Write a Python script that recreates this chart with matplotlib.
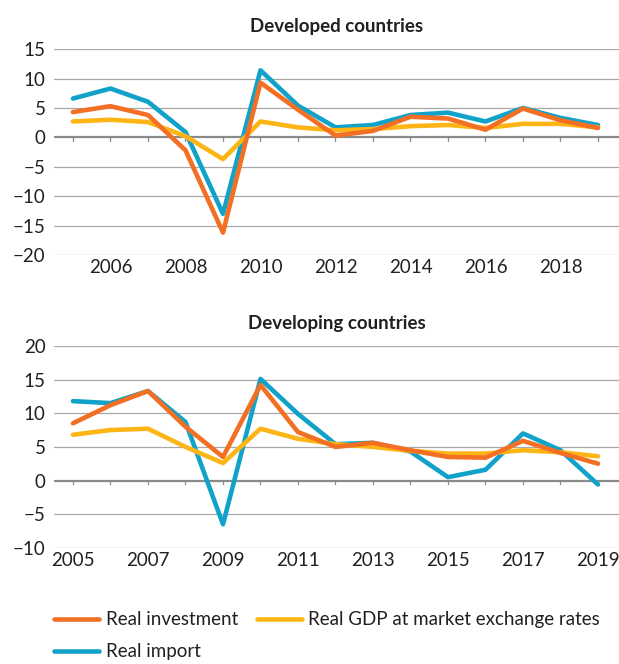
import matplotlib
matplotlib.use("Agg")
import matplotlib.pyplot as plt
from matplotlib.lines import Line2D

plt.rcParams['font.family'] = ['Lato', 'DejaVu Sans']

# ── Dados ─────────────────────────────────────────────────
anos = list(range(2005, 2020))

dev_investimento = [4.3, 5.3, 3.8, -2.2, -16.2, 9.3, 4.7, 0.3, 1.1, 3.5, 3.2, 1.3, 4.9, 2.9, 1.6]
dev_pib          = [2.7, 3.0, 2.6, 0.2, -3.7, 2.7, 1.7, 1.2, 1.4, 1.9, 2.1, 1.6, 2.3, 2.3, 1.7]
dev_importacao   = [6.6, 8.3, 6.05, 0.9, -13.0, 11.4, 5.4, 1.7, 2.1, 3.8, 4.2, 2.7, 5.0, 3.3, 2.1]

emg_investimento = [8.5, 11.2, 13.3, 8.0, 3.5, 14.2, 7.2, 5.0, 5.6, 4.5, 3.5, 3.4, 5.9, 4.1, 2.5]
emg_pib          = [6.8, 7.5, 7.7, 5.0, 2.6, 7.7, 6.2, 5.4, 5.0, 4.4, 4.0, 4.0, 4.5, 4.2, 3.6]
emg_importacao   = [11.8, 11.5, 13.3, 8.7, -6.5, 15.1, 9.9, 5.4, 5.6, 4.3, 0.5, 1.6, 7.0, 4.5, -0.6]

titulos = ['Developed countries', 'Developing countries']
rotulos = ['Real investment', 'Real GDP at market exchange rates', 'Real import']

COR_INV = '#F26F23'
COR_PIB = '#FDB515'
COR_IMP = '#11A2C9'

fig = plt.figure(figsize=(6.19, 6.64), dpi=100)
ax1 = fig.add_axes([0.087, 0.616, 0.913, 0.31])
ax2 = fig.add_axes([0.087, 0.175, 0.913, 0.304])


def desenhar(ax, inv, pib, imp, titulo, yticks, xticks):
    lw = 3.3
    ax.plot(anos, imp, color=COR_IMP, lw=lw, solid_capstyle='round', zorder=3)
    ax.plot(anos, pib, color=COR_PIB, lw=lw, solid_capstyle='round', zorder=4)
    ax.plot(anos, inv, color=COR_INV, lw=lw, solid_capstyle='round', zorder=5)

    ax.set_xlim(2004.49, 2019.56)
    ax.set_ylim(yticks[0], yticks[-1])
    ax.set_yticks(yticks)
    ax.set_yticklabels([str(v).replace('-', '\u2212') for v in yticks])
    for v in yticks:
        if v != 0:
            ax.axhline(v, color='#a8a8a8', lw=0.9, zorder=1)
    ax.axhline(0, color='#8a8a8a', lw=1.6, zorder=2)

    # marcas dos anos sobre a linha do zero
    for a in anos:
        ax.plot([a, a], [0, -(yticks[-1] - yticks[0]) * 0.018], color='#8a8a8a', lw=0.9,
                zorder=2, clip_on=False)

    ax.set_xticks(xticks)
    ax.tick_params(axis='both', length=0, labelsize=13.5, colors='#231f20')
    ax.tick_params(axis='y', pad=6)
    ax.tick_params(axis='x', pad=3)
    for s in ax.spines.values():
        s.set_visible(False)
    ax.set_title(titulo, fontsize=13.5, fontweight='bold', color='#231f20', pad=12)
    ax.patch.set_alpha(0)


desenhar(ax1, dev_investimento, dev_pib, dev_importacao, titulos[0],
         [-20, -15, -10, -5, 0, 5, 10, 15], list(range(2006, 2019, 2)))
desenhar(ax2, emg_investimento, emg_pib, emg_importacao, titulos[1],
         [-10, -5, 0, 5, 10, 15, 20], list(range(2005, 2020, 2)))

# ordem por colunas: investimento, importação | PIB
handles = [Line2D([], [], color=COR_INV, lw=3.3, solid_capstyle='round'),
           Line2D([], [], color=COR_IMP, lw=3.3, solid_capstyle='round'),
           Line2D([], [], color=COR_PIB, lw=3.3, solid_capstyle='round')]
fig.legend(handles, [rotulos[0], rotulos[2], rotulos[1]], loc='lower left',
           bbox_to_anchor=(0.06, -0.02), ncol=2,
           frameon=False, fontsize=13.5, handlelength=2.4, handletextpad=0.35,
           columnspacing=1.0, labelspacing=0.8, labelcolor='#231f20')

fig.savefig('out.png', dpi=100)
